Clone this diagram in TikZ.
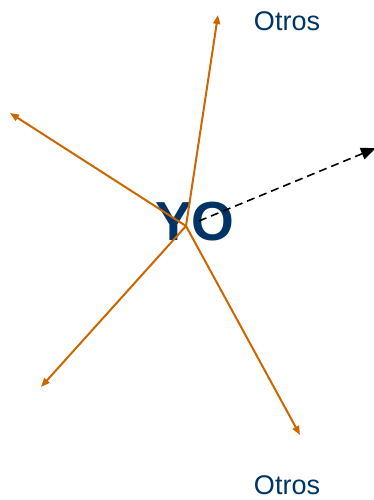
\documentclass[tikz,border=0pt]{standalone}
\usepackage{fontspec}
\setmainfont{Liberation Sans}
\usepackage{xcolor}
\usetikzlibrary{positioning, arrows.meta}
\definecolor{yoblue}{HTML}{003366}
\definecolor{yoorange}{HTML}{CC6600}

\begin{document}
\begin{tikzpicture}[
  x=1pt, y=-1pt,
  lbl/.style={text=yoblue, font=\fontsize{27}{30}\selectfont, inner sep=0pt},
  me/.style={text=yoblue, font=\fontsize{55}{60}\selectfont\bfseries, inner sep=0pt},
  link/.style={-{Triangle[length=9pt, width=7pt]}, line width=2pt, draw=yoorange},
  goal/.style={-{Triangle[length=15pt, width=12pt]}, line width=1.6pt, dash pattern=on 8pt off 5pt},
]
\useasboundingbox (0,0) rectangle (374,500);
\coordinate (o) at (186,226);
\node[me] (yo) at (195,222) {YO};
\node[lbl] (otrosa) at (287,21) {Otros};
\node[lbl] (otrosb) at (287,485) {Otros};
\coordinate (up) at (218,15);
\coordinate (ul) at (10,113);
\coordinate (dl) at (41,387);
\coordinate (dr) at (300,435);
\coordinate (start) at (199,221);
\coordinate (fut) at (376,148);
\draw[link] (o) -- (up);
\draw[link] (o) -- (ul);
\draw[link] (o) -- (dl);
\draw[link] (o) -- (dr);
\draw[goal] (start) -- (fut);
\end{tikzpicture}
\end{document}
